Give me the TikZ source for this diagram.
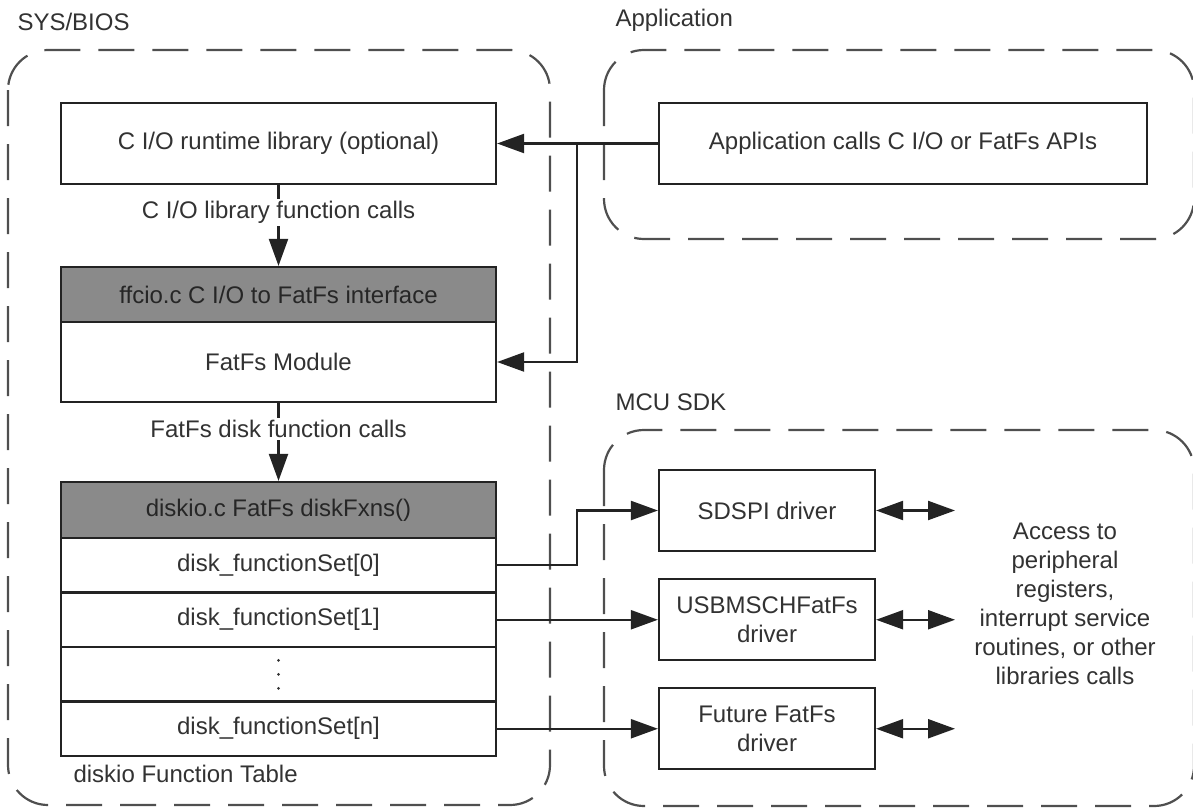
\documentclass[tikz,border=0pt]{standalone}
\usepackage{fontspec}
\setmainfont{Liberation Sans}
\usetikzlibrary{arrows.meta}

\definecolor{linegray}{RGB}{35,35,35}
\definecolor{hdrgray}{RGB}{138,138,138}
\definecolor{txtgray}{RGB}{50,50,50}

\tikzset{
  blk/.style={draw=linegray,line width=2.2pt,fill=white,text=txtgray,inner sep=0pt,align=center},
  row/.style={blk,minimum width=435pt,minimum height=54.5pt},
  hdr/.style={row,fill=hdrgray,text=black!85},
  grp/.style={draw=linegray!80,line width=2.2pt,dash pattern=on 36pt off 18pt,rounded corners=40pt},
  lbl/.style={text=txtgray,anchor=west},
  conn/.style={draw=linegray,line width=2.2pt,->},
}

\begin{document}
\begin{tikzpicture}[x=1pt,y=-1pt,>={Triangle[length=27pt,width=19pt]},font=\fontsize{24}{29}\selectfont]
  \useasboundingbox (0,0) rectangle (1193,808);

  % dashed groups
  \draw[grp] (8,50) rectangle (550,805);
  \draw[grp] (604,50) rectangle (1194,239);
  \draw[grp] (604,430) rectangle (1194,806);
  \node[lbl] (tbios) at (14,22) {SYS/BIOS};
  \node[lbl] (tapp) at (612,20) {Application};
  \node[lbl] (tsdk) at (612,402) {MCU SDK};

  % SYS/BIOS stack
  \node[row,minimum height=81pt] (cio) at (278.5,143.5) {C I/O runtime library (optional)};
  \node[hdr,minimum height=55pt] (ffcio) at (278.5,294.5) {ffcio.c C I/O to FatFs interface};
  \node[row,minimum height=80pt] (fatfs) at (278.5,362) {FatFs Module};
  \node[hdr,minimum height=56pt] (diskio) at (278.5,510) {diskio.c FatFs diskFxns()};
  \foreach \name/\y/\txt in {set0/565.25/disk\_functionSet[0],set1/619.75/disk\_functionSet[1],dots/674.25/,setn/728.75/disk\_functionSet[n]}
    \node[row] (\name) at (278.5,\y) {\txt};
  \foreach \d in {-14,0,14}
    \fill[txtgray] ([yshift=\d]dots.center) circle (1.5pt);
  \node[lbl] (ftab) at (70,774) {diskio Function Table};

  \draw[conn] (cio) -- node[pos=0.34,fill=white,text=txtgray,inner sep=2pt] {C I/O library function calls} (ffcio);
  \draw[conn] (fatfs) -- node[pos=0.33,fill=white,text=txtgray,inner sep=2pt] {FatFs disk function calls} (diskio);

  % application
  \node[blk,minimum width=488pt,minimum height=81pt] (app) at (903,143.5) {Application calls C I/O or FatFs APIs};
  \coordinate (br) at (577,143.5);
  \draw[conn] (app.west) -- (cio.east);
  \draw[conn] (br) |- (fatfs.east);

  % drivers
  \foreach \name/\y/\txt in {sdspi/510.5/SDSPI driver,usb/619.75/USBMSCHFatFs\\driver,future/728.75/Future FatFs\\driver} {
    \node[blk,minimum width=216pt,minimum height=81pt] (\name) at (767,\y) {\txt};
    \coordinate (\name-out) at (955,\y);
    \draw[conn,<->] (\name.east) -- (\name-out);
  }
  \coordinate (k0) at (577,565.25);
  \draw[conn] (set0.east) -- (k0) |- (sdspi.west);
  \draw[conn] (set1.east) -- (usb.west);
  \draw[conn] (setn.east) -- (future.west);

  \node[text=txtgray,align=center] (acc) at (1065,604) {Access to\\peripheral\\registers,\\interrupt service\\routines, or other\\libraries calls};
\end{tikzpicture}
\end{document}
